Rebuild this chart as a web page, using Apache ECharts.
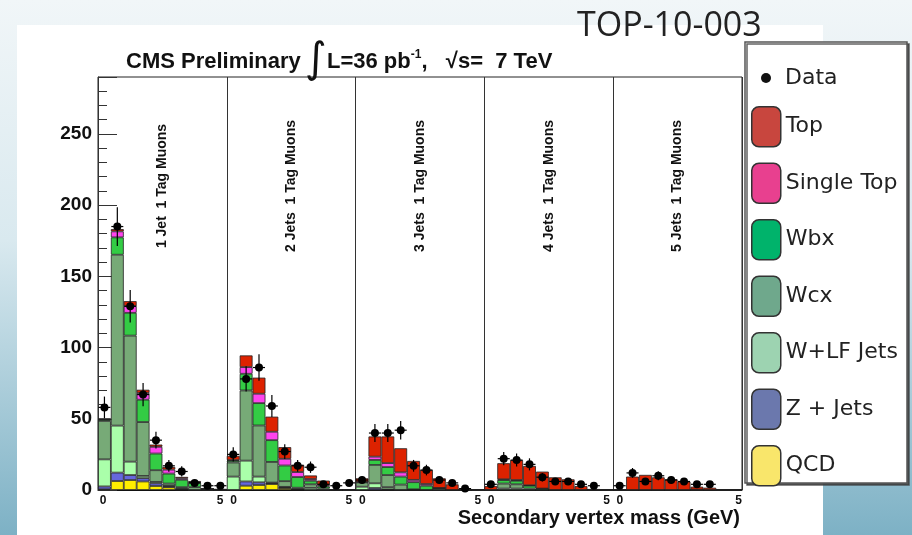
<!DOCTYPE html>
<html>
<head>
<meta charset="utf-8">
<script src="https://cdn.jsdelivr.net/npm/echarts@6/dist/echarts.min.js"></script>
<style>
  html, body { margin: 0; padding: 0; }
  #main { width: 912px; height: 535px; }
</style>
</head>
<body>
<div id="main"></div>
<script>
// 5 panels (1..5 jets), 10 bins of 0.5 GeV each -> 50 bins
const panelLabels = ['1 Jet  1 Tag Muons', '2 Jets  1 Tag Muons', '3 Jets  1 Tag Muons', '4 Jets  1 Tag Muons', '5 Jets  1 Tag Muons'];
const binNames = Array.from({ length: 50 }, (_, i) => 'b' + i);

// stacked MC, bottom to top
const qcd = [
  0.5, 6.3, 7, 6, 2.8, 1.9, 0.3, 0, 0, 0,
  0, 3, 3.5, 4.2, 1.4, 0.3, 0, 0, 0, 0,
  0, 0, 0, 0, 0, 0, 0, 0, 0, 0,
  0, 0, 0, 0, 0, 0, 0, 0, 0, 0,
  0, 0, 0, 0, 0, 0, 0, 0, 0, 0
];
const zJets = [
  2, 5.9, 3.5, 2.3, 1.9, 0.5, 0.2, 0, 0, 0,
  0, 3, 1.9, 0.5, 0.3, 0, 0, 0, 0, 0,
  0, 1.4, 0.5, 0, 0, 0, 0, 0, 0, 0,
  0, 0, 0, 0, 0, 0, 0, 0, 0, 0,
  0, 0, 0, 0, 0, 0, 0, 0, 0, 0
];
const wlfJets = [
  19, 33, 9.4, 1.6, 1, 0.5, 0.3, 0, 0, 0,
  9.4, 14.6, 4, 0.5, 0.5, 0.3, 1.5, 0, 0, 0,
  2.3, 3.3, 1.5, 0, 0, 0, 0, 0, 0, 0,
  0, 1, 1, 0, 0, 0, 0, 0, 0, 0,
  0, 0, 0, 0, 0, 0, 0, 0, 0, 0
];
const wcx = [
  27, 120, 88.5, 37.8, 8.2, 1.6, 1.2, 2, 0.3, 0,
  9.9, 49.3, 35.9, 14.5, 4, 1, 2.5, 1, 0, 0,
  3, 12.9, 8.5, 3.8, 0.5, 0, 1.4, 0, 0, 0,
  0, 3.5, 3, 1, 0, 0, 0, 0, 0, 0,
  0, 0, 0, 0, 0, 0, 0, 0, 0, 0
];
const wbx = [
  1, 12.2, 16, 15.7, 11.7, 7, 5.2, 3, 0.5, 0.3,
  1.2, 11.7, 15.7, 15.3, 11, 7.5, 2.5, 1.5, 0, 0,
  0.5, 3.5, 5.6, 5.6, 5, 3, 0, 0, 0, 0,
  0, 2.5, 2.5, 2, 1, 0, 0, 0, 0, 0,
  0, 0, 0, 0, 0, 0, 0, 0, 0, 0
];
const singleTop = [
  0.3, 4.2, 4.7, 4.7, 4.7, 2.8, 1, 0.5, 0, 0,
  0.5, 4.7, 6.6, 5.9, 4.7, 3.5, 1.2, 0.8, 0, 0,
  0, 2.3, 2.8, 3, 1.6, 1.2, 0, 0, 0, 0,
  0, 0.5, 0.5, 0.3, 0, 0, 0, 0, 0, 0,
  0, 0, 0, 0, 0, 0, 0.3, 0, 0, 0
];
const topPairs = [
  0.2, 1.6, 3.5, 2.3, 1.6, 1.9, 1, 0.8, 0.2, 0.3,
  3, 8.2, 11.3, 10.6, 8.2, 5.2, 2.5, 3.3, 0.5, 0.3,
  2.4, 14.2, 18.7, 16.9, 13.3, 9.9, 6.8, 4, 0.5, 0,
  2.8, 11.3, 14, 13.6, 11.9, 8.9, 7.5, 2.8, 0.7, 0,
  0.5, 9.4, 10.6, 8.9, 7.5, 5.9, 2, 1.6, 0, 0
];
// observed counts (null = empty bin)
const dataCounts = [
  58, 185, 129, 67, 35, 17, 13, 5, 3, 3,
  25, 78, 86, 59, 27, 17, 16, 4, 3, 5,
  7, 40, 40, 42, 17, 14, 7, 5, 1, null,
  4, 22, 21, 18, 9, 6, 6, 4, 3, null,
  3, 12, 6, 10, 7, 6, 4, 4, null, null
];

const stackDefs = [
  { name: 'QCD', data: qcd, color: '#ffee00', legend: '#f9e66b' },
  { name: 'Z + Jets', data: zJets, color: '#6666dd', legend: '#6b78ad' },
  { name: 'W+LF Jets', data: wlfJets, color: '#aaffaa', legend: '#9dd3b1' },
  { name: 'Wcx', data: wcx, color: '#77aa77', legend: '#6fa88c' },
  { name: 'Wbx', data: wbx, color: '#33cc44', legend: '#00b36b' },
  { name: 'Single Top', data: singleTop, color: '#ff44ee', legend: '#e8408f' },
  { name: 'Top', data: topPairs, color: '#dd2200', legend: '#c8463e' }
];

const chart = echarts.init(document.getElementById('main'));
const boldFont = 'Liberation Sans';

const barSeries = stackDefs.map(s => ({
  type: 'bar',
  name: s.name,
  stack: 'mc',
  xAxisIndex: 0,
  yAxisIndex: 0,
  barWidth: '100%',
  data: s.data,
  itemStyle: { color: s.color, borderColor: '#222', borderWidth: 0.8 },
  emphasis: { disabled: true }
}));

const points = [];
dataCounts.forEach((v, i) => { if (v != null) points.push([i + 0.5, v]); });

chart.setOption({
  animation: false,
  backgroundColor: '#eef5f8',
  graphic: [
    { type: 'rect', z: -10, shape: { x: 0, y: 0, width: 912, height: 535 },
      style: { fill: { type: 'linear', x: 0, y: 0, x2: 0, y2: 1, colorStops: [
        { offset: 0, color: '#f1f6f8' }, { offset: 0.45, color: '#d9e9ef' }, { offset: 1, color: '#7db1c5' }] } } },
    { type: 'rect', z: -9, shape: { x: 17, y: 25, width: 806, height: 510 }, style: { fill: '#ffffff' } },
    { type: 'rect', z: 3, shape: { x: 745, y: 42, width: 162, height: 441 },
      style: { fill: '#ffffff', stroke: '#555', lineWidth: 1.5, shadowColor: 'rgba(60,60,60,0.8)', shadowOffsetX: 2, shadowOffsetY: 2, shadowBlur: 0 } },
    { type: 'text', z: 5, x: 577, y: 26,
      style: { text: 'TOP-10-003', font: '34px "Open Sans"', fill: '#222', verticalAlign: 'middle' } },
    { type: 'text', z: 5, x: 126, y: 62,
      style: { text: 'CMS Preliminary', font: 'bold 22px "Liberation Sans"', fill: '#111', verticalAlign: 'middle' } },
    { type: 'text', z: 5, x: 305, y: 61,
      style: { text: '∫', font: '42px "DejaVu Sans"', fill: '#111', verticalAlign: 'middle' } },
    { type: 'text', z: 5, x: 327, y: 62,
      style: {
        text: '{b|L=36 pb}{s|-1}{b|,   √s=  7 TeV}',
        verticalAlign: 'middle',
        rich: {
          b: { font: 'bold 22px "Liberation Sans"', fill: '#111', lineHeight: 26 },
          s: { font: 'bold 12px "Liberation Sans"', fill: '#111', lineHeight: 12, verticalAlign: 'top' }
        }
      } },
    { type: 'text', z: 5, right: 912 - 740, top: 508,
      style: { text: 'Secondary vertex mass (GeV)', font: 'bold 20px "Liberation Sans"', fill: '#111' } }
  ],
  grid: { left: 98, top: 77, right: 170, bottom: 45, show: true, borderColor: '#222', borderWidth: 1 },
  legend: [
    {
      orient: 'vertical', left: 761, top: 67, padding: 0, itemWidth: 10, itemHeight: 10,
      textStyle: { fontFamily: 'DejaVu Sans', fontSize: 22, color: '#222', padding: [0, 0, 0, 9] },
      data: [{ name: 'Data', icon: 'circle', itemStyle: { color: '#111', borderWidth: 0 } }],
      selectedMode: false, z: 6
    },
    {
      orient: 'vertical', left: 751, top: 106, padding: 0, itemWidth: 29, itemHeight: 40, itemGap: 15,
      textStyle: { fontFamily: 'DejaVu Sans', fontSize: 22, color: '#222' },
      data: stackDefs.slice().reverse().map(s => ({
        name: s.name, icon: 'roundRect',
        itemStyle: { color: s.legend, borderColor: '#333', borderWidth: 1.5 }
      })),
      selectedMode: false, z: 6
    }
  ],
  xAxis: [
    { type: 'category', data: binNames, show: false, gridIndex: 0 },
    {
      // bin-index axis: each panel covers 10 bins (0-5 GeV)
      type: 'value', min: 0, max: 50, interval: 10, position: 'bottom',
      axisLine: { show: true, lineStyle: { color: '#111', width: 1 } },
      axisTick: { show: false },
      axisLabel: {
        margin: 5, fontFamily: boldFont, fontWeight: 'bold', fontSize: 12, color: '#111',
        formatter: v => v === 0 ? '   0' : (v === 50 ? '5  ' : '5  0')
      },
      splitLine: { show: true, lineStyle: { color: '#333', width: 1 } }
    }
  ],
  yAxis: [
    {
      type: 'value', min: 0, max: 290, interval: 50,
      axisLine: { show: true, lineStyle: { color: '#333', width: 1 } },
      axisTick: { show: true, inside: true, length: 19, lineStyle: { color: '#333' } },
      axisLabel: {
        margin: 6, fontFamily: boldFont, fontWeight: 'bold', fontSize: 19, color: '#111',
        formatter: v => (v % 50 === 0 ? String(v) : '')
      },
      splitLine: { show: false }
    },
    {
      type: 'value', min: 0, max: 290, interval: 10, position: 'left',
      axisLine: { show: false },
      axisTick: { show: true, inside: true, length: 9, lineStyle: { color: '#333' } },
      axisLabel: { show: false },
      splitLine: { show: false }
    }
  ],
  series: barSeries.concat([
    {
      type: 'custom', name: 'Data', xAxisIndex: 1, yAxisIndex: 0, z: 4,
      data: points,
      renderItem: function (params, api) {
        const x = api.value(0), v = api.value(1);
        const err = Math.sqrt(v); // Poisson error
        const c = api.coord([x, v]);
        const hi = api.coord([x, v + err]);
        const lo = api.coord([x, Math.max(v - err, 0)]);
        return {
          type: 'group', children: [
            { type: 'line', shape: { x1: c[0], y1: hi[1], x2: c[0], y2: lo[1] }, style: { stroke: '#000', lineWidth: 1.2 } },
            { type: 'line', shape: { x1: c[0] - 6, y1: c[1], x2: c[0] + 6, y2: c[1] }, style: { stroke: '#000', lineWidth: 1.2 } },
            { type: 'circle', shape: { cx: c[0], cy: c[1], r: 4 }, style: { fill: '#000' } }
          ]
        };
      }
    },
    {
      type: 'custom', name: 'labels', xAxisIndex: 1, yAxisIndex: 0, z: 4, silent: true,
      data: panelLabels.map((t, i) => [i * 10 + 5, 0]),
      renderItem: function (params, api) {
        const c = api.coord([api.value(0), 0]);
        return {
          type: 'text', x: c[0], y: 186, rotation: Math.PI / 2,
          style: { text: panelLabels[params.dataIndex], font: 'bold 14px "Liberation Sans"', fill: '#111', align: 'center', verticalAlign: 'middle' }
        };
      }
    }
  ])
});
</script>
</body>
</html>
